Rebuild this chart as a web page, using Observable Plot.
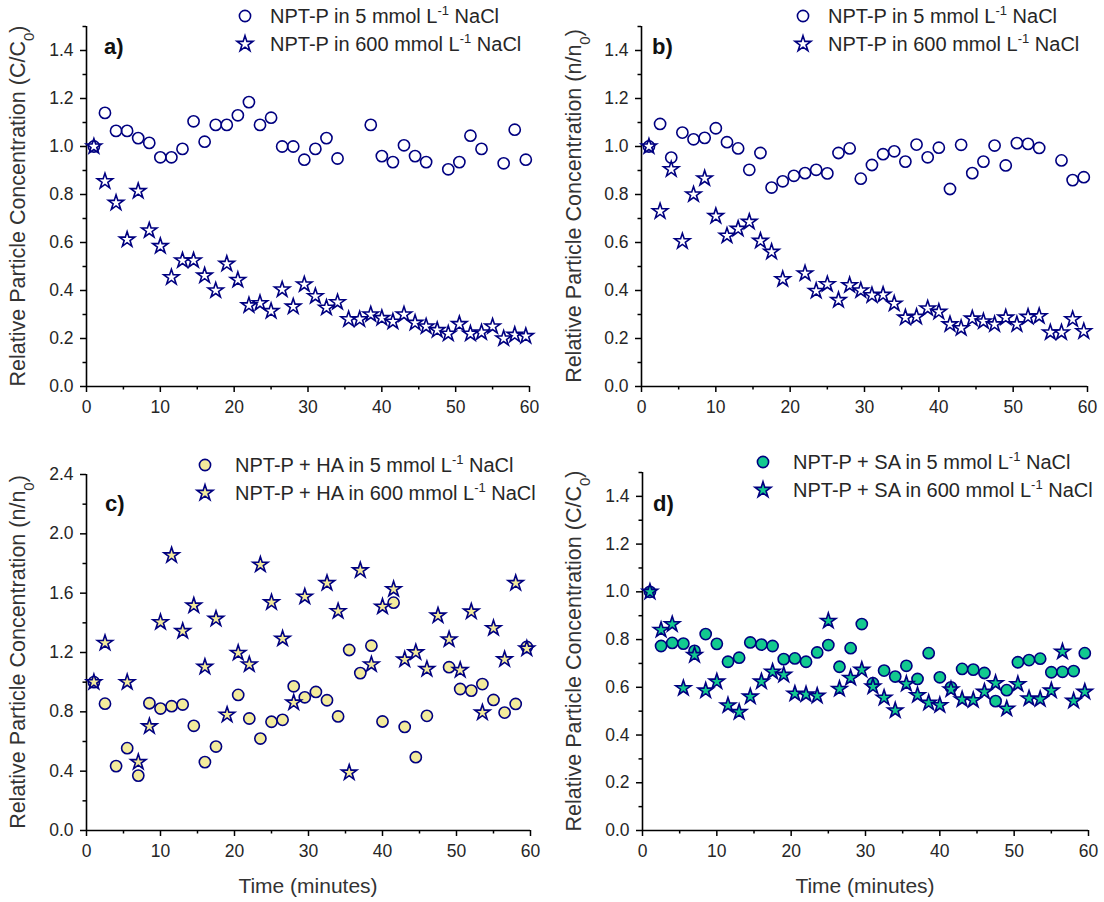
<!DOCTYPE html>
<html><head><meta charset="utf-8">
<script src="https://cdn.jsdelivr.net/npm/d3@7"></script>
<script src="https://cdn.jsdelivr.net/npm/@observablehq/plot@0.6"></script>
<style>
body{margin:0;background:#fff;}
#fig{position:relative;width:1104px;height:902px;background:#fff;font-family:'Liberation Sans',Arial,sans-serif;overflow:hidden}
.panel{position:absolute;}
.legend{position:absolute;font-size:20px;color:#262626;white-space:nowrap;}
.legend .row{display:flex;align-items:center;height:28px}
.legend svg{width:22px;height:22px;overflow:visible}
.legend sup{font-size:13px;vertical-align:8px;line-height:0}
.plabel{position:absolute;font-weight:bold;font-size:22px;color:#111;font-family:'Liberation Sans',Arial,sans-serif}
</style></head>
<body><div id="fig"></div>
<script>
// ---- data (time in minutes, relative concentration) ----
const aTime5  = [1,2.5,4,5.5,7,8.5,10,11.5,13,14.5,16,17.5,19,20.5,22,23.5,25,26.5,28,29.5,31,32.5,34,38.5,40,41.5,43,44.5,46,49,50.5,52,53.5,56.5,58,59.5];
const aConc5  = [1.00,1.14,1.065,1.065,1.035,1.015,0.955,0.955,0.99,1.105,1.02,1.09,1.09,1.13,1.185,1.09,1.12,1.0,1.0,0.945,0.99,1.035,0.95,1.09,0.96,0.935,1.005,0.96,0.935,0.905,0.935,1.045,0.99,0.93,1.07,0.945];
const aTime600 = [1,2.5,4,5.5,7,8.5,10,11.5,13,14.5,16,17.5,19,20.5,22,23.5,25,26.5,28,29.5,31,32.5,34,35.5,37,38.5,40,41.5,43,44.5,46,47.5,49,50.5,52,53.5,55,56.5,58,59.5];
const aConc600 = [1.0,0.855,0.765,0.612,0.814,0.65,0.585,0.455,0.525,0.525,0.462,0.40,0.511,0.444,0.338,0.347,0.314,0.404,0.333,0.425,0.376,0.328,0.351,0.28,0.28,0.30,0.285,0.27,0.30,0.265,0.25,0.235,0.22,0.26,0.22,0.225,0.25,0.20,0.215,0.21];

const bTime5  = [1,2.5,4,5.5,7,8.5,10,11.5,13,14.5,16,17.5,19,20.5,22,23.5,25,26.5,28,29.5,31,32.5,34,35.5,37,38.5,40,41.5,43,44.5,46,47.5,49,50.5,52,53.5,56.5,58,59.5];
const bConc5  = [1.0,1.094,0.954,1.058,1.03,1.036,1.076,1.018,0.992,0.903,0.973,0.829,0.855,0.878,0.889,0.903,0.888,0.973,0.992,0.866,0.923,0.968,0.98,0.937,1.008,0.955,0.995,0.823,1.007,0.889,0.937,1.004,0.921,1.014,1.011,0.994,0.942,0.86,0.872];
const bTime600 = [1,2.5,4,5.5,7,8.5,10,11.5,13,14.5,16,17.5,19,22,23.5,25,26.5,28,29.5,31,32.5,34,35.5,37,38.5,40,41.5,43,44.5,46,47.5,49,50.5,52,53.5,55,56.5,58,59.5];
const bConc600 = [1.0,0.73,0.905,0.605,0.80,0.867,0.71,0.628,0.657,0.686,0.607,0.561,0.447,0.471,0.398,0.426,0.36,0.422,0.40,0.38,0.382,0.345,0.287,0.29,0.325,0.311,0.259,0.243,0.283,0.271,0.259,0.287,0.259,0.29,0.293,0.225,0.225,0.28,0.23];

const cTime5  = [1,2.5,4,5.5,7,8.5,10,11.5,13,14.5,16,17.5,20.5,22,23.5,25,26.5,28,29.5,31,32.5,34,35.5,37,38.5,40,41.5,43,44.5,46,49,50.5,52,53.5,55,56.5,58,59.5];
const cConc5  = [1.0,0.855,0.434,0.555,0.37,0.858,0.822,0.838,0.849,0.706,0.461,0.566,0.914,0.755,0.62,0.733,0.746,0.972,0.898,0.934,0.878,0.769,1.217,1.061,1.246,0.735,1.536,0.698,0.494,0.773,1.101,0.954,0.943,0.987,0.88,0.795,0.853,1.237];
const cTime600 = [1,2.5,5.5,7,8.5,10,11.5,13,14.5,16,17.5,19,20.5,22,23.5,25,26.5,28,29.5,32.5,34,35.5,37,38.5,40,41.5,43,44.5,46,47.5,49,50.5,52,53.5,55,56.5,58,59.5];
const cConc600 = [1.0,1.264,1.0,0.461,0.702,1.404,1.855,1.344,1.516,1.103,1.427,0.78,1.197,1.119,1.792,1.538,1.293,0.862,1.576,1.668,1.478,0.39,1.754,1.119,1.509,1.627,1.152,1.201,1.088,1.449,1.288,1.081,1.476,0.795,1.364,1.154,1.668,1.226];

const dTime5  = [1,2.5,4,5.5,7,8.5,10,11.5,13,14.5,16,17.5,19,20.5,22,23.5,25,26.5,28,29.5,31,32.5,34,35.5,37,38.5,40,41.5,43,44.5,46,47.5,49,50.5,52,53.5,55,56.5,58,59.5];
const dConc5  = [1.0,0.773,0.786,0.783,0.753,0.823,0.782,0.707,0.724,0.788,0.779,0.773,0.718,0.721,0.707,0.746,0.777,0.686,0.764,0.865,0.617,0.67,0.645,0.69,0.635,0.743,0.642,0.60,0.677,0.674,0.66,0.542,0.588,0.705,0.714,0.72,0.663,0.665,0.668,0.743];
const dTime600 = [1,2.5,4,5.5,7,8.5,10,11.5,13,14.5,16,17.5,19,20.5,22,23.5,25,26.5,28,29.5,31,32.5,34,35.5,37,38.5,40,41.5,43,44.5,46,47.5,49,50.5,52,53.5,55,56.5,58,59.5];
const dConc600 = [1.0,0.84,0.864,0.596,0.735,0.586,0.624,0.524,0.496,0.561,0.624,0.665,0.652,0.573,0.57,0.564,0.878,0.593,0.639,0.673,0.603,0.556,0.503,0.614,0.567,0.535,0.525,0.591,0.549,0.546,0.581,0.617,0.51,0.613,0.553,0.55,0.586,0.749,0.543,0.581];

const xMajor = [0,10,20,30,40,50,60];
const xMinor = [5,15,25,35,45,55];
const yMajor15 = [0,0.2,0.4,0.6,0.8,1.0,1.2,1.4];
const yMinor15 = [0.1,0.3,0.5,0.7,0.9,1.1,1.3,1.5];
const yMajor24 = [0,0.4,0.8,1.2,1.6,2.0,2.4];
const yMinor24 = [0.2,0.6,1.0,1.4,1.8,2.2];

const navy = "#000080";
const FONT = "'Liberation Sans', Arial, sans-serif";
const fig = document.getElementById("fig");

function toRows(t, v){ return t.map((d,i)=>({t:d, v:v[i]})); }

function panel(o){
  const plot = Plot.plot({
    width: 552, height: o.height,
    marginLeft: o.ml, marginRight: o.mr, marginTop: o.mt, marginBottom: o.mb,
    x: {domain:[0,60]},
    y: {domain:[0,o.yMax]},
    style: {fontFamily: FONT, fontSize:"17px", color:"#262626", background:"transparent", overflow:"visible"},
    marks: [
      Plot.axisX(xMajor, {tickSize:6, tickPadding:8, stroke:"#000", strokeWidth:1.5, fill:"#262626", fontSize:17.5, label:null}),
      Plot.axisX(xMinor, {tickSize:3.5, stroke:"#000", strokeWidth:1.5, text:null, label:null}),
      Plot.axisY(o.yMajor, {tickSize:6, tickPadding:7, stroke:"#000", strokeWidth:1.5, fill:"#262626", fontSize:17.5, tickFormat:d3.format(".1f"), label:null}),
      Plot.axisY(o.yMinor, {tickSize:3.5, stroke:"#000", strokeWidth:1.5, text:null, label:null}),
      Plot.ruleX([0], {stroke:"#000", strokeWidth:1.6}),
      Plot.ruleY([0], {stroke:"#000", strokeWidth:1.6}),
      Plot.dot(toRows(o.t5, o.v5), {x:"t", y:"v", symbol:"circle", r:5.6, stroke:navy, strokeWidth:1.6, fill:o.fill}),
      Plot.dot(toRows(o.t600, o.v600), {x:"t", y:"v", symbol:"star", r:4.8, stroke:navy, strokeWidth:1.6, fill:o.fill})
    ]
  });
  const wrap = document.createElement("div");
  wrap.className = "panel";
  wrap.style.left = o.left+"px"; wrap.style.top = o.top+"px";
  wrap.appendChild(plot);
  fig.appendChild(wrap);
  const svg = d3.select(plot);
  // y-axis label with subscript
  const midY = o.mt + (o.height - o.mt - o.mb)/2;
  const lab = svg.append("text")
    .attr("transform", `translate(${o.lx},${midY}) rotate(-90)`)
    .attr("text-anchor","middle").attr("font-size",21.5).attr("fill","#333").attr("font-family",FONT);
  lab.append("tspan").text(o.ylab[0]);
  lab.append("tspan").attr("baseline-shift","sub").attr("font-size",15).text(o.ylab[1]);
  lab.append("tspan").text(")");
  if (o.xlab) {
    svg.append("text").attr("x", o.ml + (552 - o.ml - o.mr)/2).attr("y", o.height - 9)
      .attr("text-anchor","middle").attr("font-size",21).attr("fill","#333").attr("font-family",FONT)
      .text("Time (minutes)");
  }
  // panel letter
  const pl = document.createElement("div");
  pl.className = "plabel"; pl.textContent = o.letter;
  pl.style.left = o.letX+"px"; pl.style.top = o.letY+"px";
  fig.appendChild(pl);
  // legend
  const lg = document.createElement("div");
  lg.className = "legend";
  lg.style.left = o.legX+"px"; lg.style.top = o.legY+"px";
  const sym = (type, r) => d3.symbol(type === "circle" ? d3.symbolCircle : d3.symbolStar, Math.PI*r*r)();
  const gap = `style="margin-right:${o.gap}px"`;
  lg.innerHTML = `
    <div class="row"><svg viewBox="-11 -11 22 22" ${gap}><path d="${sym("circle",5.6)}" fill="${o.fill}" stroke="${navy}" stroke-width="1.6"/></svg><span>${o.leg[0]} in 5 mmol L<sup>-1</sup> NaCl</span></div>
    <div class="row"><svg viewBox="-11 -11 22 22" ${gap}><path d="${sym("star",5)}" fill="${o.fill}" stroke="${navy}" stroke-width="1.6"/></svg><span>${o.leg[0]} in 600 mmol L<sup>-1</sup> NaCl</span></div>`;
  fig.appendChild(lg);
}

panel({left:0, top:0, height:420, ml:86, mr:23, mt:26, mb:34, yMax:1.5, yMajor:yMajor15, yMinor:yMinor15,
  t5:aTime5, v5:aConc5, t600:aTime600, v600:aConc600, fill:"none", ylab:["Relative Particle Concentration (C/C","0"], lx:25,
  letter:"a)", letX:104, letY:34, legX:234, legY:2, gap:14, leg:["NPT-P"]});
panel({left:552, top:0, height:420, ml:89, mr:17, mt:26, mb:34, yMax:1.5, yMajor:yMajor15, yMinor:yMinor15,
  t5:bTime5, v5:bConc5, t600:bTime600, v600:bConc600, fill:"none", ylab:["Relative Particle Concentration (n/n","0"], lx:29,
  letter:"b)", letX:652, letY:34, legX:792, legY:2, gap:14, leg:["NPT-P"]});
panel({left:0, top:420, height:482, ml:86, mr:22, mt:54, mb:72, yMax:2.4, yMajor:yMajor24, yMinor:yMinor24,
  t5:cTime5, v5:cConc5, t600:cTime600, v600:cConc600, fill:"#F3EB9C", ylab:["Relative Particle Concentration (n/n","0"], lx:25, xlab:true,
  letter:"c)", letX:105, letY:491, legX:194, legY:451, gap:19, leg:["NPT-P + HA"]});
panel({left:552, top:420, height:482, ml:90, mr:16, mt:52, mb:72, yMax:1.5, yMajor:yMajor15, yMinor:yMinor15,
  t5:dTime5, v5:dConc5, t600:dTime600, v600:dConc600, fill:"#12C98F", ylab:["Relative Particle Concentration (C/C","0"], lx:29, xlab:true,
  letter:"d)", letX:653, letY:491, legX:752, legY:448, gap:19, leg:["NPT-P + SA"]});
</script></body></html>
